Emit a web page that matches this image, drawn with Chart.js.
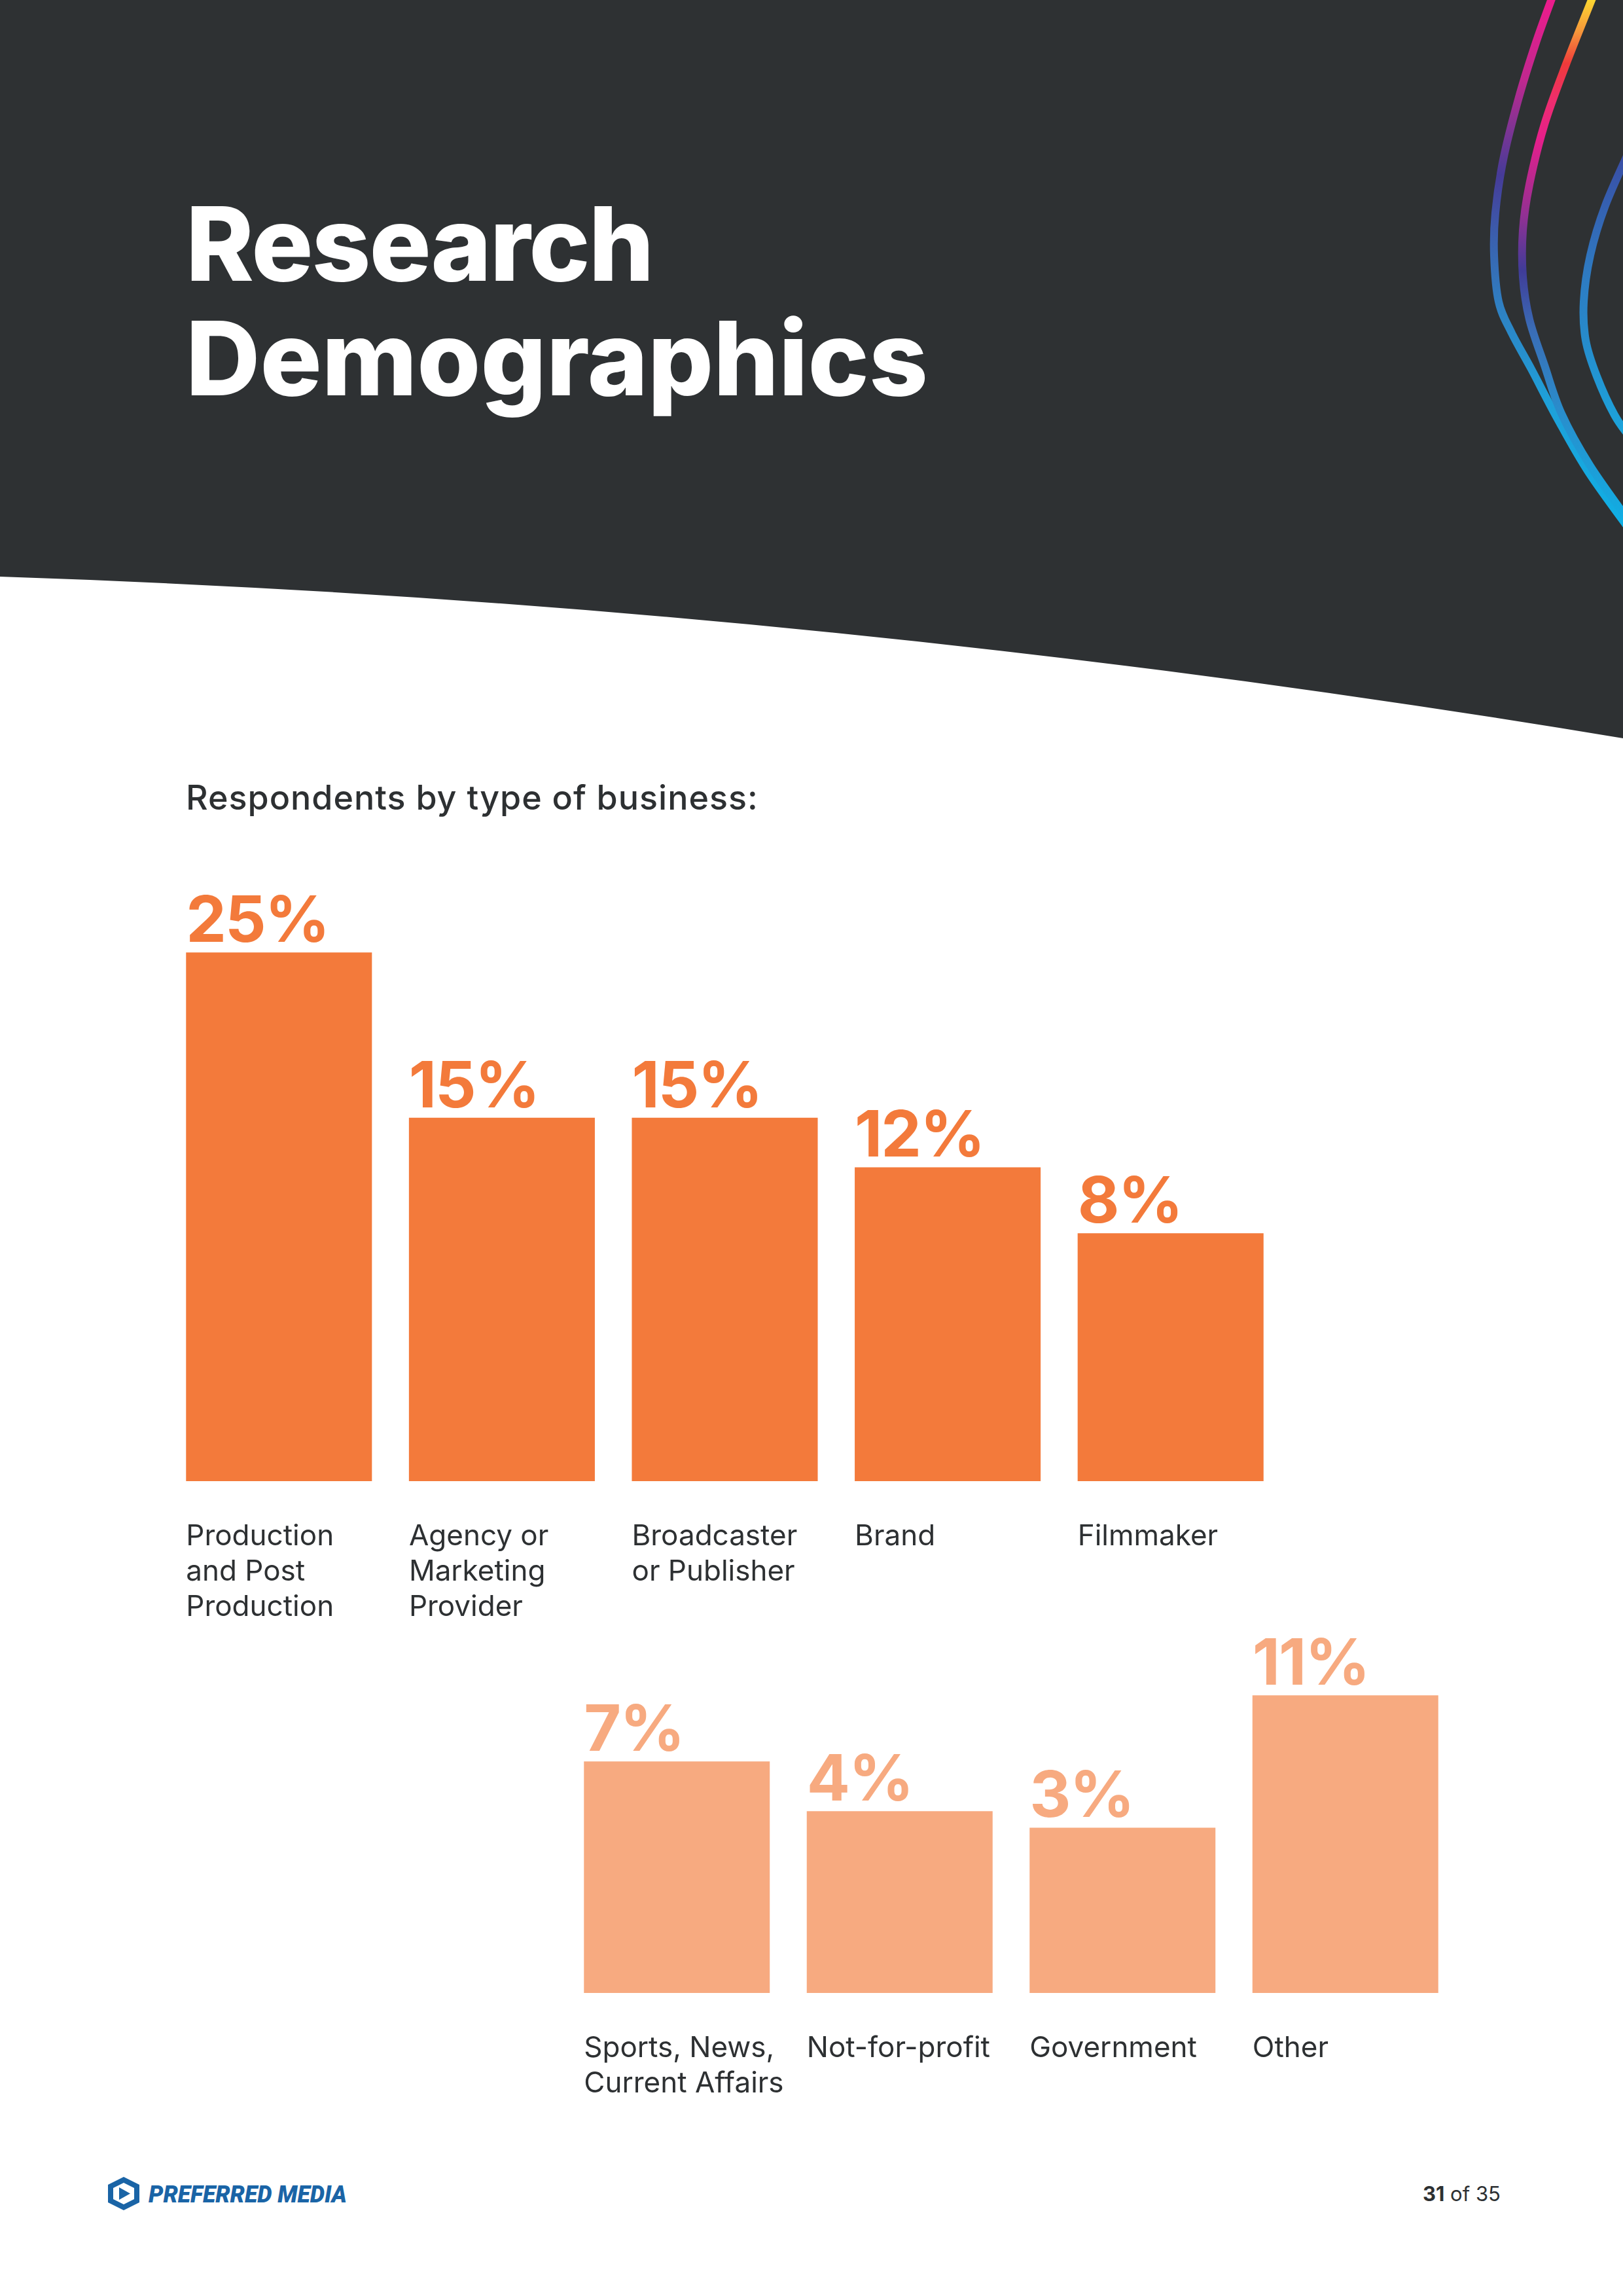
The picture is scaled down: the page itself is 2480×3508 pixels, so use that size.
<!DOCTYPE html>
<html>
<head>
<meta charset="utf-8">
<script src="https://cdn.jsdelivr.net/npm/chart.js@4.4.1/dist/chart.umd.min.js"></script>
<style>
  html, body { margin: 0; padding: 0; background: #fff; }
  body { width: 2480px; height: 3508px; position: relative; overflow: hidden; font-family: Inter, sans-serif; }
  #page { position: absolute; left: 0; top: 0; }
  canvas { position: absolute; }
  #graf1 { left: 256px; top: 1329px; }
  #graf2 { left: 864px; top: 2464px; }
</style>
</head>
<body>
<svg id="page" width="2480" height="3508" viewBox="0 0 2480 3508" xmlns="http://www.w3.org/2000/svg">
  <defs>
    <linearGradient id="gA" gradientUnits="userSpaceOnUse" x1="0" y1="0" x2="0" y2="810">
      <stop offset="0" stop-color="#ec1c8c"/>
      <stop offset="0.15" stop-color="#c0288f"/>
      <stop offset="0.25" stop-color="#7a3594"/>
      <stop offset="0.33" stop-color="#463b98"/>
      <stop offset="0.45" stop-color="#3a60ae"/>
      <stop offset="0.58" stop-color="#2f80c2"/>
      <stop offset="0.75" stop-color="#1f9fd8"/>
      <stop offset="1" stop-color="#0fb0e5"/>
    </linearGradient>
    <linearGradient id="gB" gradientUnits="userSpaceOnUse" x1="0" y1="0" x2="0" y2="810">
      <stop offset="0" stop-color="#fcd631"/>
      <stop offset="0.06" stop-color="#f6963a"/>
      <stop offset="0.12" stop-color="#ef3a3a"/>
      <stop offset="0.19" stop-color="#ee2d6e"/>
      <stop offset="0.26" stop-color="#e71f8b"/>
      <stop offset="0.41" stop-color="#8f3193"/>
      <stop offset="0.51" stop-color="#403c98"/>
      <stop offset="0.62" stop-color="#3a6cb5"/>
      <stop offset="0.77" stop-color="#2a8ccb"/>
      <stop offset="1" stop-color="#0fb0e5"/>
    </linearGradient>
    <linearGradient id="gC" gradientUnits="userSpaceOnUse" x1="0" y1="230" x2="0" y2="670">
      <stop offset="0" stop-color="#3a4ba3"/>
      <stop offset="0.4" stop-color="#2f78c0"/>
      <stop offset="1" stop-color="#1ba5dc"/>
    </linearGradient>
  </defs>
  <!-- tmavá hlavička -->
  <path d="M0,0 L2480,0 L2480,1128 Q1240,922 0,881 Z" fill="#2e3133"/>
  <path id="krivkaA" fill="none" stroke="url(#gA)" stroke-width="12" stroke-linecap="round"/>
  <path id="krivkaB" fill="none" stroke="url(#gB)" stroke-width="12" stroke-linecap="round"/>
  <path id="krivkaC" fill="none" stroke="url(#gC)" stroke-width="12" stroke-linecap="round"/>
  <text x="284" y="429" fill="#ffffff" font-family="Inter" font-weight="800" font-size="157" letter-spacing="-2">Research</text>
  <text x="284" y="604" fill="#ffffff" font-family="Inter" font-weight="800" font-size="157">Demographics</text>
  <text x="284" y="1237" fill="#2d3032" font-family="Inter" font-weight="500" font-size="52" letter-spacing="1">Respondents by type of business:</text>
  <!-- patička -->
  <polygon points="189,3326 213,3338 213,3365 189,3377 165,3365 165,3338" fill="#1a64a6"/>
  <polygon points="189,3335 205,3343 205,3360 189,3368 173,3360 173,3343" fill="#ffffff"/>
  <polygon points="182,3342 199,3351.5 182,3361" fill="#1a64a6"/>
  <text x="227" y="3365" fill="#1a64a6" font-family="Roboto" font-weight="900" font-style="italic" font-size="37" textLength="303" lengthAdjust="spacingAndGlyphs">PREFERRED MEDIA</text>
  <text x="2174" y="3363" fill="#2d3032" font-family="Inter" font-size="31"><tspan font-weight="700">31</tspan> of 35</text>
</svg>
<canvas id="graf1" width="1703" height="1194"></canvas>
<canvas id="graf2" width="1362" height="841"></canvas>
<script>
// Data – horní řada
const horniKategorie = [['Production', 'and Post', 'Production'], ['Agency or', 'Marketing', 'Provider'], ['Broadcaster', 'or Publisher'], 'Brand', 'Filmmaker'];
const horniHodnoty = [25, 15, 15, 12, 8];
// Data – dolní řada
const dolniKategorie = [['Sports, News,', 'Current Affairs'], 'Not-for-profit', 'Government', 'Other'];
const dolniHodnoty = [7, 4, 3, 11];

const horniBarva = '#f37a3b';
const dolniBarva = '#f7aa80';

// Dekorativní křivky vpravo nahoře
function hladkaCesta(body) {
  let d = 'M' + body[0][0] + ',' + body[0][1];
  for (let i = 0; i < body.length - 1; i++) {
    const p0 = body[i - 1] || body[i];
    const p1 = body[i];
    const p2 = body[i + 1];
    const p3 = body[i + 2] || p2;
    const c1 = [p1[0] + (p2[0] - p0[0]) / 6, p1[1] + (p2[1] - p0[1]) / 6];
    const c2 = [p2[0] - (p3[0] - p1[0]) / 6, p2[1] - (p3[1] - p1[1]) / 6];
    d += ' C' + c1.join(',') + ' ' + c2.join(',') + ' ' + p2.join(',');
  }
  return d;
}
document.getElementById('krivkaA').setAttribute('d', hladkaCesta([
  [2374, -10], [2347, 65], [2320, 152], [2297, 244], [2285, 325], [2283, 390], [2290, 461],
  [2310, 509], [2340, 564], [2380, 640], [2427, 721], [2492, 812]]));
document.getElementById('krivkaB').setAttribute('d', hladkaCesta([
  [2436, -10], [2393, 98], [2360, 190], [2337, 282], [2327, 352], [2327, 423], [2337, 488],
  [2360, 558], [2386, 632], [2430, 712], [2492, 800]]));
document.getElementById('krivkaC').setAttribute('d', hladkaCesta([
  [2492, 225], [2453, 314], [2430, 390], [2420, 461], [2423, 520], [2440, 575], [2467, 634], [2492, 670]]));

// Popisky hodnot nad sloupci
const popiskyHodnot = {
  id: 'popiskyHodnot',
  afterDatasetsDraw(chart) {
    const ctx = chart.ctx;
    const ds = chart.data.datasets[0];
    chart.getDatasetMeta(0).data.forEach((bar, i) => {
      ctx.save();
      ctx.fillStyle = ds.backgroundColor;
      ctx.font = '700 98px Inter';
      ctx.letterSpacing = '-2px';
      ctx.textAlign = 'left';
      ctx.textBaseline = 'alphabetic';
      ctx.fillText(ds.data[i] + '%', bar.x - bar.width / 2, bar.y - 16);
      ctx.restore();
    });
  }
};

function vykresliGraf(id, kategorie, hodnoty, barva, maxY) {
  return new Chart(document.getElementById(id).getContext('2d'), {
    type: 'bar',
    data: {
      labels: kategorie,
      datasets: [{
        data: hodnoty,
        backgroundColor: barva,
        borderWidth: 0,
        base: -7,
        barPercentage: 0.834,
        categoryPercentage: 1
      }]
    },
    options: {
      responsive: false,
      animation: false,
      devicePixelRatio: 1,
      layout: { padding: 0 },
      plugins: { legend: { display: false }, tooltip: { enabled: false } },
      scales: {
        y: { display: false, min: -7, max: maxY },
        x: {
          grid: { display: false, drawTicks: false },
          border: { display: false },
          ticks: {
            align: 'start',
            labelOffset: -142,
            padding: 58,
            maxRotation: 0,
            autoSkip: false,
            color: '#2d3032',
            font: { family: 'Inter', size: 44, weight: 'normal', lineHeight: '54px' }
          },
          afterFit: s => {
            s.height = 260;
            s.paddingLeft = 0;
            s.paddingRight = 0;
          }
        }
      }
    },
    plugins: [popiskyHodnot]
  });
}

document.fonts.load('700 98px Inter').then(() => {
  vykresliGraf('graf1', horniKategorie, horniHodnoty, horniBarva, 30);
  vykresliGraf('graf2', dolniKategorie, dolniHodnoty, dolniBarva, 16);
});
</script>
</body>
</html>
